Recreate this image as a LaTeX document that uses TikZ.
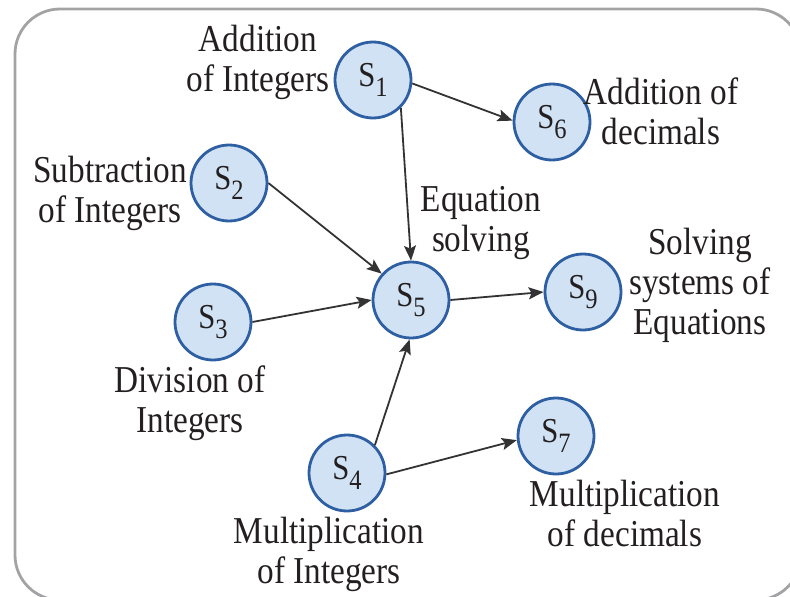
\documentclass[tikz,border=0pt]{standalone}
\usepackage{fontspec}
\setmainfont{Liberation Serif}
\newfontfamily\labelfont[FakeStretch=0.875]{Liberation Serif}
\usetikzlibrary{arrows.meta}
\definecolor{nodefill}{HTML}{D0E2F3}
\definecolor{nodeline}{HTML}{2E5FA3}
\definecolor{framegray}{HTML}{A3A3A5}
\definecolor{arrowc}{HTML}{333333}
\definecolor{textc}{HTML}{231F20}
\newcommand\snode[1]{S\raisebox{-0.3em}{\fontsize{28}{28}\selectfont #1}}
\tikzset{
  state/.style={circle, draw=nodeline, fill=nodefill, line width=2.8pt,
    minimum size=76pt, inner sep=0pt, text=textc,
    font=\labelfont\fontsize{35}{40}\selectfont},
  lbl/.style={align=center, inner sep=0pt, text=textc,
    font=\labelfont\fontsize{38}{40}\selectfont},
  arr/.style={-{Stealth[length=15pt,width=12pt,inset=3pt]}, line width=1.8pt, draw=arrowc}
}
\begin{document}
\begin{tikzpicture}[x=1pt,y=-1pt]
\useasboundingbox (0,0) rectangle (790,597);
\clip (0,0) rectangle (790,597);
\draw[framegray, line width=2.8pt, rounded corners=45pt] (15,9) rectangle (801,600);
% nodes
\node[state] (s1) at (373,80) {\snode{1}};
\node[state] (s6) at (552,122) {\snode{6}};
\node[state] (s2) at (229,183) {\snode{2}};
\node[state] (s5) at (411,300) {\snode{5}};
\node[state] (s3) at (213,322) {\snode{3}};
\node[state] (s9) at (583,292) {\snode{9}};
\node[state] (s4) at (347,473) {\snode{4}};
\node[state] (s7) at (556,436) {\snode{7}};
% labels
\node[lbl] (l1) at (258,62) {Addition\\of Integers};
\node[lbl] (l6) at (661,111) {Addition of\\decimals};
\node[lbl] (l2) at (110,193) {Subtraction\\of Integers};
\node[lbl] (l5) at (481,223) {Equation\\solving};
\node[lbl] (l9) at (700,285) {Solving\\systems of\\Equations};
\node[lbl] (l3) at (190,403) {Division of\\Integers};
\node[lbl] (l4) at (329,554) {Multiplication\\of Integers};
\node[lbl] (l7) at (625,513) {Multiplication\\of decimals};
% edges
\draw[arr] (s1.-5) -- (s6.178);
\draw[arr] (s1.-45) -- (s5.north);
\draw[arr] (s2.0) -- (s5.138);
\draw[arr] (s3.0) -- (s5.180);
\draw[arr] (s5.0) -- (s9.180);
\draw[arr] (s4.45) -- (s5.-92);
\draw[arr] (s4.-2) -- (s7.186);
\end{tikzpicture}
\end{document}
